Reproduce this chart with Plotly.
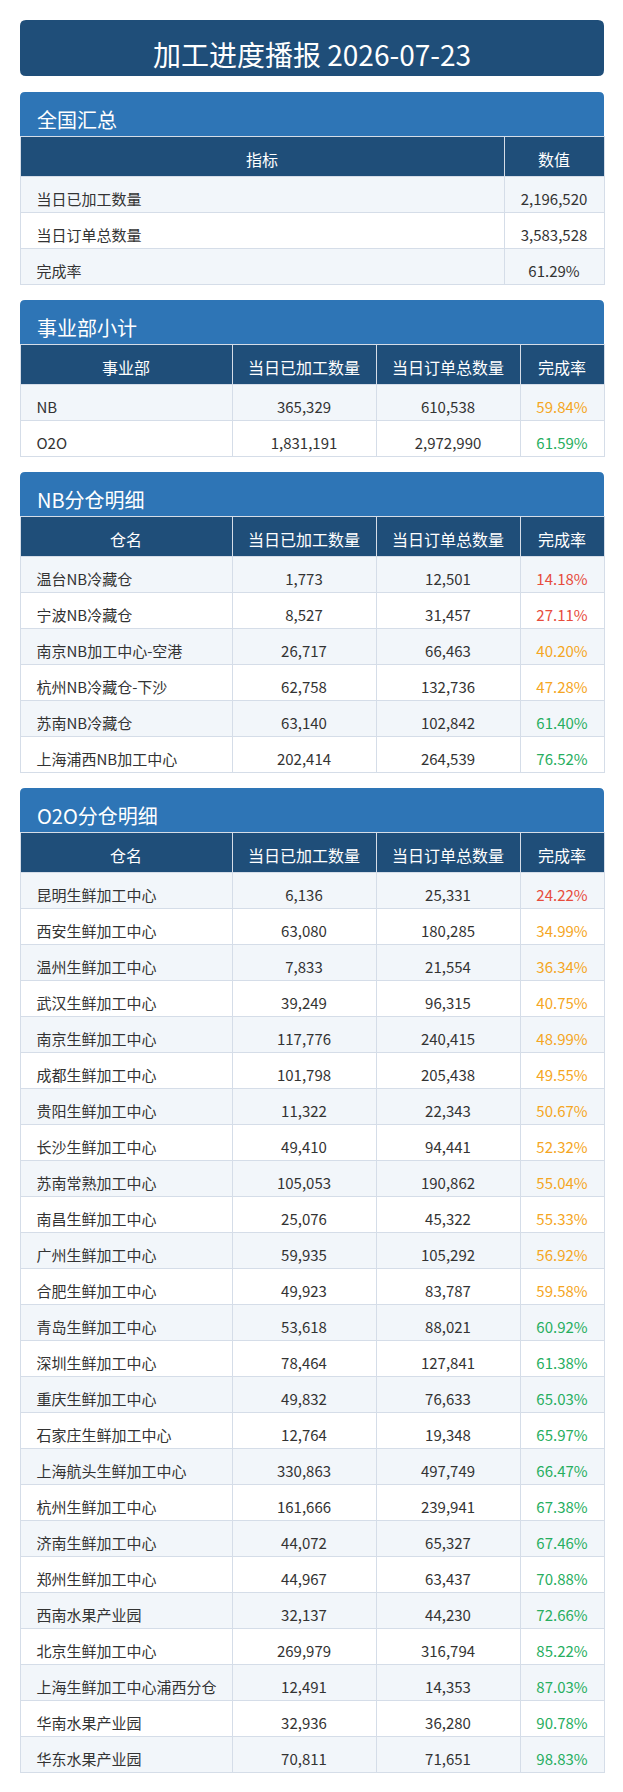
import plotly.graph_objects as go

# the page body adds an 8px margin, so the figure is drawn 16px smaller
W, H = 607, 1776
OFF = 8
FONT = "Noto Sans CJK SC"
NAVY = "#1f4e79"
BLUE = "#2e75b6"
LINE = "#d5dde8"
ROW_A = "#f2f6fa"
ROW_B = "#ffffff"
TEXT = "#333333"
CLEAR = "rgba(0,0,0,0)"

title = "加工进度播报 2026-07-23"

# 全国汇总
sum_labels = ["当日已加工数量", "当日订单总数量", "完成率"]
sum_values = ["2,196,520", "3,583,528", "61.29%"]

# 事业部小计
bu_names = ["NB", "O2O"]
bu_done = [365329, 1831191]
bu_orders = [610538, 2972990]
bu_rate = [59.84, 61.59]

# NB分仓明细
nb_names = ["温台NB冷藏仓", "宁波NB冷藏仓", "南京NB加工中心-空港", "杭州NB冷藏仓-下沙",
            "苏南NB冷藏仓", "上海浦西NB加工中心"]
nb_done = [1773, 8527, 26717, 62758, 63140, 202414]
nb_orders = [12501, 31457, 66463, 132736, 102842, 264539]
nb_rate = [14.18, 27.11, 40.20, 47.28, 61.40, 76.52]

# O2O分仓明细
o2o_names = ["昆明生鲜加工中心", "西安生鲜加工中心", "温州生鲜加工中心", "武汉生鲜加工中心",
             "南京生鲜加工中心", "成都生鲜加工中心", "贵阳生鲜加工中心", "长沙生鲜加工中心",
             "苏南常熟加工中心", "南昌生鲜加工中心", "广州生鲜加工中心", "合肥生鲜加工中心",
             "青岛生鲜加工中心", "深圳生鲜加工中心", "重庆生鲜加工中心", "石家庄生鲜加工中心",
             "上海航头生鲜加工中心", "杭州生鲜加工中心", "济南生鲜加工中心", "郑州生鲜加工中心",
             "西南水果产业园", "北京生鲜加工中心", "上海生鲜加工中心浦西分仓", "华南水果产业园",
             "华东水果产业园"]
o2o_done = [6136, 63080, 7833, 39249, 117776, 101798, 11322, 49410, 105053, 25076,
            59935, 49923, 53618, 78464, 49832, 12764, 330863, 161666, 44072, 44967,
            32137, 269979, 12491, 32936, 70811]
o2o_orders = [25331, 180285, 21554, 96315, 240415, 205438, 22343, 94441, 190862, 45322,
              105292, 83787, 88021, 127841, 76633, 19348, 497749, 239941, 65327, 63437,
              44230, 316794, 14353, 36280, 71651]
o2o_rate = [24.22, 34.99, 36.34, 40.75, 48.99, 49.55, 50.67, 52.32, 55.04, 55.33,
            56.92, 59.58, 60.92, 61.38, 65.03, 65.97, 66.47, 67.38, 67.46, 70.88,
            72.66, 85.22, 87.03, 90.78, 98.83]

detail_header = ["当日已加工数量", "当日订单总数量", "完成率"]

X0, X1 = 20 - OFF, 604 - OFF
TOP = 20 - OFF
TITLE_H, BAR_H, HEAD_H, ROW_H, GAP = 56, 44, 40, 36, 16
TEXT_DROP = 10  # plotly puts cell text near the top; the reference centres it lower
PAD = "\u2002\u200a"


def rate_color(r):
    if r < 30:
        return "#e74c3c"
    if r < 60:
        return "#f5a623"
    return "#27ae60"


fig = go.Figure()
shapes, annotations = [], []


def bar_path(x0, y0, x1, y1, r, all_corners=False):
    if all_corners:
        return (f"M{x0+r},{y0} L{x1-r},{y0} Q{x1},{y0} {x1},{y0+r} L{x1},{y1-r} "
                f"Q{x1},{y1} {x1-r},{y1} L{x0+r},{y1} Q{x0},{y1} {x0},{y1-r} "
                f"L{x0},{y0+r} Q{x0},{y0} {x0+r},{y0} Z")
    return (f"M{x0+r},{y0} L{x1-r},{y0} Q{x1},{y0} {x1},{y0+r} L{x1},{y1} "
            f"L{x0},{y1} L{x0},{y0+r} Q{x0},{y0} {x0+r},{y0} Z")


def ydom(top_px, bottom_px):
    return [max(0.0, 1 - bottom_px / H), 1 - top_px / H]


def add_panel(top, name, header, columns, aligns, widths, font_colors):
    n = len(columns[0])
    shapes.append(dict(type="path", xref="x", yref="y", path=bar_path(X0, top, X1, top + BAR_H, 5),
                       fillcolor=BLUE, line=dict(width=0), layer="below"))
    annotations.append(dict(x=X0 + 15, y=top + 27, xref="x", yref="y", text=name,
                            showarrow=False, xanchor="left", yanchor="middle",
                            font=dict(family=FONT, size=20, color="white")))
    t = top + BAR_H
    b = t + HEAD_H + n * ROW_H
    fills = [[ROW_A if i % 2 == 0 else ROW_B for i in range(n)]] * len(columns)
    # grid: fills and lines only
    fig.add_trace(go.Table(
        domain=dict(x=[X0 / W, X1 / W], y=ydom(t, b + 3)),
        columnwidth=widths,
        header=dict(values=[""] * len(header), fill_color=NAVY, height=HEAD_H,
                    line=dict(color=LINE, width=1)),
        cells=dict(values=[[""] * n for _ in columns], fill_color=fills, height=ROW_H,
                   line=dict(color=LINE, width=1)),
    ))
    # text layer, dropped a little so it sits in the middle of each row
    fig.add_trace(go.Table(
        domain=dict(x=[X0 / W, X1 / W], y=ydom(t + TEXT_DROP, b + TEXT_DROP + 2)),
        columnwidth=widths,
        header=dict(values=header, fill_color=CLEAR, align="center", height=HEAD_H,
                    line=dict(color=CLEAR, width=0),
                    font=dict(family=FONT, size=16, color="white")),
        cells=dict(values=columns, fill_color=CLEAR, align=aligns, height=ROW_H,
                   line=dict(color=CLEAR, width=0),
                   font=dict(family=FONT, size=15, color=font_colors)),
    ))
    return b


# title box
shapes.append(dict(type="path", xref="x", yref="y", path=bar_path(X0, TOP, X1, TOP + TITLE_H, 6, True),
                   fillcolor=NAVY, line=dict(width=0), layer="below"))
annotations.append(dict(x=(X0 + X1) / 2, y=TOP + TITLE_H / 2 + 6, xref="x", yref="y", text=title,
                        showarrow=False, xanchor="center", yanchor="middle",
                        font=dict(family=FONT, size=28, color="white")))

y = TOP + TITLE_H + GAP
y = add_panel(y, "全国汇总", ["指标", "数值"],
              [[PAD + s for s in sum_labels], sum_values],
              ["left", "center"], [484, 100], [TEXT, TEXT]) + GAP


def fmt(v):
    return f"{v:,}"


def detail(top, name, first, names, done, orders, rate):
    cols = [[PAD + s for s in names], [fmt(v) for v in done], [fmt(v) for v in orders],
            [f"{r:.2f}%" for r in rate]]
    colors = [TEXT, TEXT, TEXT, [rate_color(r) for r in rate]]
    return add_panel(top, name, [first] + detail_header, cols,
                     ["left", "center", "center", "center"], [212, 144, 144, 84], colors)


y = detail(y, "事业部小计", "事业部", bu_names, bu_done, bu_orders, bu_rate) + GAP
y = detail(y, "NB分仓明细", "仓名", nb_names, nb_done, nb_orders, nb_rate) + GAP
y = detail(y, "O2O分仓明细", "仓名", o2o_names, o2o_done, o2o_orders, o2o_rate)

fig.update_layout(
    width=W, height=H, margin=dict(l=0, r=0, t=0, b=0),
    paper_bgcolor="white", plot_bgcolor="white",
    xaxis=dict(range=[0, W], visible=False, domain=[0, 1], fixedrange=True),
    yaxis=dict(range=[H, 0], visible=False, domain=[0, 1], fixedrange=True),
    shapes=shapes, annotations=annotations, showlegend=False,
)

fig.write_html("out.html")
